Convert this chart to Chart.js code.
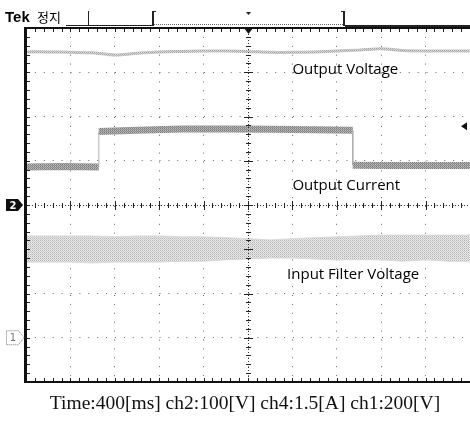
<!DOCTYPE html>
<html>
<head>
<meta charset="utf-8">
<script src="https://cdn.jsdelivr.net/npm/chart.js@4.4.0/dist/chart.umd.min.js"></script>
<style>
  html, body { margin: 0; padding: 0; background: #fff; }
</style>
</head>
<body>
<canvas id="scope" width="470" height="423"></canvas>
<script>
// time axis in divisions (10 div across, 400 ms/div)
let sampleDivs = [0, 0.5, 1, 1.5, 2, 2.5, 3, 3.5, 4, 4.5, 5, 5.5, 6, 6.5, 7, 7.5, 8, 8.5, 9, 9.5, 10];
// ch2 output voltage, in divisions from bottom of screen
let outputVoltage = [7.46, 7.46, 7.45, 7.44, 7.39, 7.43, 7.46, 7.47, 7.48, 7.48, 7.47, 7.45, 7.45, 7.46, 7.48, 7.50, 7.53, 7.49, 7.48, 7.48, 7.48];
// ch4 output current (step up at ~1.64 div, down at ~7.36 div)
let currentDivs = [0, 0.8, 1.64, 1.64, 2.5, 3.5, 4.5, 5.5, 6.5, 7.36, 7.36, 8.2, 9, 10];
let outputCurrent = [4.86, 4.87, 4.86, 5.66, 5.69, 5.72, 5.72, 5.71, 5.70, 5.69, 4.90, 4.89, 4.89, 4.89];
// ch1 input filter voltage, noisy band (upper / lower edge)
let filterUpper = [3.30, 3.30, 3.30, 3.30, 3.28, 3.30, 3.30, 3.28, 3.28, 3.26, 3.24, 3.21, 3.24, 3.26, 3.28, 3.30, 3.32, 3.32, 3.32, 3.32, 3.32];
let filterLower = [2.71, 2.71, 2.71, 2.69, 2.71, 2.71, 2.71, 2.73, 2.73, 2.76, 2.78, 2.80, 2.80, 2.78, 2.76, 2.76, 2.76, 2.73, 2.76, 2.73, 2.73];

let traceLabels = ["Output Voltage", "Output Current", "Input Filter Voltage"];
let headerText = ["Tek", "정지"];
let captionText = "Time:400[ms] ch2:100[V] ch4:1.5[A] ch1:200[V]";

function toPoints(xs, ys) {
  return xs.map((x, i) => ({ x: x, y: ys[i] }));
}

// small dithered patterns to look like the scope's dot traces
function makePattern(cells) {
  let c = document.createElement("canvas");
  c.width = cells[0].length;
  c.height = cells.length;
  let g = c.getContext("2d");
  cells.forEach((row, j) => row.forEach((col, i) => {
    g.fillStyle = col;
    g.fillRect(i, j, 1, 1);
  }));
  return g.createPattern(c, "repeat");
}
let bandFill = makePattern([["#b0b0b0", "#eeeeee"], ["#e8e8e8", "#cccccc"]]);
let currentFill = makePattern([["#7a7a7a", "#c0c0c0"], ["#a8a8a8", "#8c8c8c"]]);
let voltageFill = makePattern([["#a0a0a0", "#dddddd"], ["#d0d0d0", "#b8b8b8"]]);

let scopeExtras = {
  id: "scopeExtras",
  afterDraw(chart) {
    let ctx = chart.ctx;
    let a = chart.chartArea;
    let xs = chart.scales.x;
    let ys = chart.scales.y;
    let cx = Math.round(xs.getPixelForValue(5));
    let cy = Math.round(ys.getPixelForValue(4));
    ctx.save();

    // center cross, dense dotted
    ctx.strokeStyle = "#333";
    ctx.lineWidth = 1;
    ctx.setLineDash([1, 2]);
    ctx.beginPath();
    ctx.moveTo(cx + 0.5, a.top);
    ctx.lineTo(cx + 0.5, a.bottom);
    ctx.moveTo(a.left, cy + 0.5);
    ctx.lineTo(a.right, cy + 0.5);
    ctx.stroke();
    ctx.setLineDash([]);

    // minor ticks on center lines and edges
    ctx.strokeStyle = "#222";
    ctx.beginPath();
    for (let i = 0; i <= 50; i++) {
      let px = Math.round(xs.getPixelForValue(i / 5)) + 0.5;
      let len = i % 5 === 0 ? 4 : 2;
      ctx.moveTo(px, cy - len);
      ctx.lineTo(px, cy + len + 1);
      ctx.moveTo(px, a.top);
      ctx.lineTo(px, a.top + 4);
      ctx.moveTo(px, a.bottom - 4);
      ctx.lineTo(px, a.bottom);
    }
    for (let i = 0; i <= 40; i++) {
      let py = Math.round(ys.getPixelForValue(i / 5)) + 0.5;
      let len = i % 5 === 0 ? 4 : 2;
      ctx.moveTo(cx - len, py);
      ctx.lineTo(cx + len + 1, py);
      ctx.moveTo(a.left, py);
      ctx.lineTo(a.left + 4, py);
    }
    ctx.stroke();

    // screen frame
    ctx.fillStyle = "#111";
    ctx.fillRect(a.left - 2, a.top - 1, 3, a.bottom - a.top + 2);
    ctx.fillRect(a.left - 2, a.top - 1, a.right - a.left + 2, 2);
    ctx.fillRect(a.left - 2, a.bottom - 1, a.right - a.left + 2, 2);

    // trigger position marker at top centre
    ctx.beginPath();
    ctx.moveTo(cx - 4, a.top);
    ctx.lineTo(cx + 5, a.top);
    ctx.lineTo(cx + 0.5, a.top + 6);
    ctx.closePath();
    ctx.fill();

    // trigger level marker on right
    let ty = ys.getPixelForValue(5.78);
    ctx.beginPath();
    ctx.moveTo(461, ty);
    ctx.lineTo(467, ty - 4);
    ctx.lineTo(467, ty + 4);
    ctx.closePath();
    ctx.fill();

    // ch2 ground marker (filled)
    let g2 = cy;
    ctx.beginPath();
    ctx.moveTo(6, g2 - 6);
    ctx.lineTo(18, g2 - 6);
    ctx.lineTo(23, g2);
    ctx.lineTo(18, g2 + 6);
    ctx.lineTo(6, g2 + 6);
    ctx.closePath();
    ctx.fill();
    ctx.fillStyle = "#fff";
    ctx.font = "bold 10px 'DejaVu Sans'";
    ctx.textAlign = "center";
    ctx.textBaseline = "middle";
    ctx.fillText("2", 13, g2 + 1);

    // ch1 ground marker (outlined)
    let g1 = ys.getPixelForValue(1);
    ctx.strokeStyle = "#777";
    ctx.setLineDash([1, 1]);
    ctx.beginPath();
    ctx.moveTo(6.5, g1 - 7);
    ctx.lineTo(18.5, g1 - 7);
    ctx.lineTo(24, g1);
    ctx.lineTo(18.5, g1 + 7);
    ctx.lineTo(6.5, g1 + 7);
    ctx.closePath();
    ctx.stroke();
    ctx.setLineDash([]);
    ctx.fillStyle = "#777";
    ctx.font = "10px 'DejaVu Sans'";
    ctx.fillText("1", 13, g1 + 1);

    // trace labels
    ctx.fillStyle = "#000";
    ctx.textAlign = "left";
    ctx.textBaseline = "alphabetic";
    ctx.font = "500 15px 'Open Sans'";
    ctx.fillText(traceLabels[0], xs.getPixelForValue(6.0), ys.getPixelForValue(6.96));
    ctx.fillText(traceLabels[1], xs.getPixelForValue(6.0), ys.getPixelForValue(4.34));
    ctx.fillText(traceLabels[2], xs.getPixelForValue(5.88), ys.getPixelForValue(2.33));

    // header
    ctx.font = "bold 15px 'Liberation Sans'";
    ctx.fillText(headerText[0], 5, 22);
    ctx.font = "13px 'Noto Sans CJK KR'";
    ctx.fillText(headerText[1], 37, 22);
    ctx.fillStyle = "#222";
    ctx.fillRect(88, 11, 1, 15);
    ctx.fillRect(66, 25, 87, 1);
    ctx.fillRect(345, 25, 125, 2);
    // record window bracket
    ctx.fillRect(152, 11, 2, 15);
    ctx.fillRect(152, 11, 4, 1);
    ctx.fillRect(343, 11, 2, 15);
    ctx.fillRect(341, 11, 4, 1);
    ctx.strokeStyle = "#666";
    ctx.setLineDash([1, 1]);
    ctx.beginPath();
    ctx.moveTo(154, 24.5);
    ctx.lineTo(343, 24.5);
    ctx.stroke();
    ctx.setLineDash([]);
    ctx.beginPath();
    ctx.moveTo(246, 12);
    ctx.lineTo(251, 12);
    ctx.lineTo(248.5, 15);
    ctx.closePath();
    ctx.fill();

    // caption
    ctx.fillStyle = "#111";
    ctx.textAlign = "center";
    ctx.font = "19.5px 'Liberation Serif'";
    ctx.fillText(captionText, 245, 409);

    ctx.restore();
  },
};

new Chart(document.getElementById("scope"), {
  type: "line",
  data: {
    datasets: [
      {
        label: "filter lower",
        data: toPoints(sampleDivs, filterLower),
        borderColor: "#d8d8d8",
        borderWidth: 1,
        fill: false,
        tension: 0,
      },
      {
        label: "Input Filter Voltage",
        data: toPoints(sampleDivs, filterUpper),
        borderColor: "#d8d8d8",
        borderWidth: 1,
        backgroundColor: bandFill,
        fill: "-1",
        tension: 0,
      },
      {
        label: "Output Current",
        data: toPoints(currentDivs, outputCurrent),
        borderColor: currentFill,
        borderWidth: 7,
        borderCapStyle: "butt",
        fill: false,
        tension: 0,
        segment: {
          borderWidth: (c) => (c.p0.parsed.x === c.p1.parsed.x ? 1 : 7),
          borderColor: (c) => (c.p0.parsed.x === c.p1.parsed.x ? "#b0b0b0" : undefined),
        },
      },
      {
        label: "Output Voltage",
        data: toPoints(sampleDivs, outputVoltage),
        borderColor: voltageFill,
        borderWidth: 3,
        fill: false,
        tension: 0.3,
      },
    ],
  },
  options: {
    responsive: false,
    animation: false,
    layout: { padding: { left: 26, top: 28, right: 0, bottom: 41 } },
    elements: { point: { radius: 0 } },
    plugins: {
      legend: { display: false },
      tooltip: { enabled: false },
      title: { display: false },
    },
    scales: {
      x: {
        type: "linear",
        min: 0,
        max: 10,
        ticks: { display: false, stepSize: 1 },
        grid: { color: "#666", lineWidth: 1, drawTicks: false },
        border: { display: false, dash: [1, 7.9] },
      },
      y: {
        type: "linear",
        min: 0,
        max: 8,
        ticks: { display: false, stepSize: 1 },
        grid: { color: "#666", lineWidth: 1, drawTicks: false },
        border: { display: false, dash: [1, 7.9] },
      },
    },
  },
  plugins: [scopeExtras],
});
</script>
</body>
</html>
